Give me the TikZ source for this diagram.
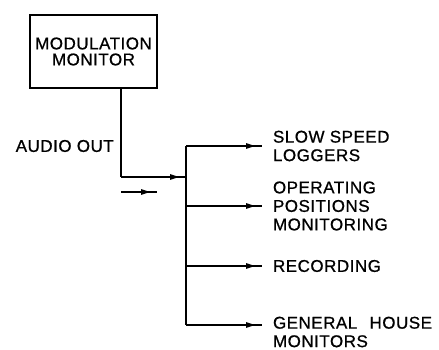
\documentclass[tikz,border=0pt]{standalone}
\usepackage{fontspec}
\newfontfamily\lettering[LetterSpace=3,FakeBold=0.8]{Liberation Sans}
\usetikzlibrary{arrows.meta,decorations.markings}

\begin{document}
\begin{tikzpicture}[x=1pt,y=-1pt,
    line width=1.5pt,
    txt/.style={font=\lettering\fontsize{17}{18.5}\selectfont,inner sep=0pt},
    unit/.style={txt,draw,inner sep=0pt,minimum width=127pt,minimum height=73pt,
                 align=center,font=\lettering\fontsize{17}{16}\selectfont},
    dest/.style={txt,align=left,outer xsep=11pt,anchor=west},
    feed/.style={postaction={decorate},decoration={markings,
                 mark=at position -7pt with {\arrow{Triangle[length=9pt,width=5.5pt]}}}}
  ]
    \useasboundingbox (0,0) rectangle (439,350);
    % monitor and its output
    \node[unit] (mod) at (93.5,51.5) {MODULATION\\MONITOR};
    \node[txt,anchor=west] (aud) at (15,146) {AUDIO OUT};
    \coordinate (corner) at (121,177);
    \coordinate (join) at (186,177);
    \draw (mod.south -| corner) -- (corner);
    \draw[feed] (corner) -- (join);
    % flow direction
    \coordinate (dirA) at (121,192);
    \coordinate (dirB) at (157,192);
    \draw[feed,line width=1.3pt] (dirA) -- (dirB);
    % distribution bus
    \coordinate (b1) at (186,146);
    \coordinate (b2) at (186,206);
    \coordinate (b3) at (186,266);
    \coordinate (b4) at (186,325);
    \draw (b1) -- (b4);
    \node[dest] (slow) at (262,146) {SLOW SPEED\\LOGGERS};
    \node[dest] (oper) at (262,206) {OPERATING\\POSITIONS\\MONITORING};
    \node[dest] (rec) at (262,266) {RECORDING};
    \node[dest,anchor=north west] (gh) at (262,316) {GENERAL\hspace{7pt} HOUSE\\MONITORS};
    \draw[feed] (b1) -- (slow.west);
    \draw[feed] (b2) -- (oper.west);
    \draw[feed] (b3) -- (rec.west);
    \draw[feed] (b4) -- (b4 -| gh.west);
\end{tikzpicture}
\end{document}
